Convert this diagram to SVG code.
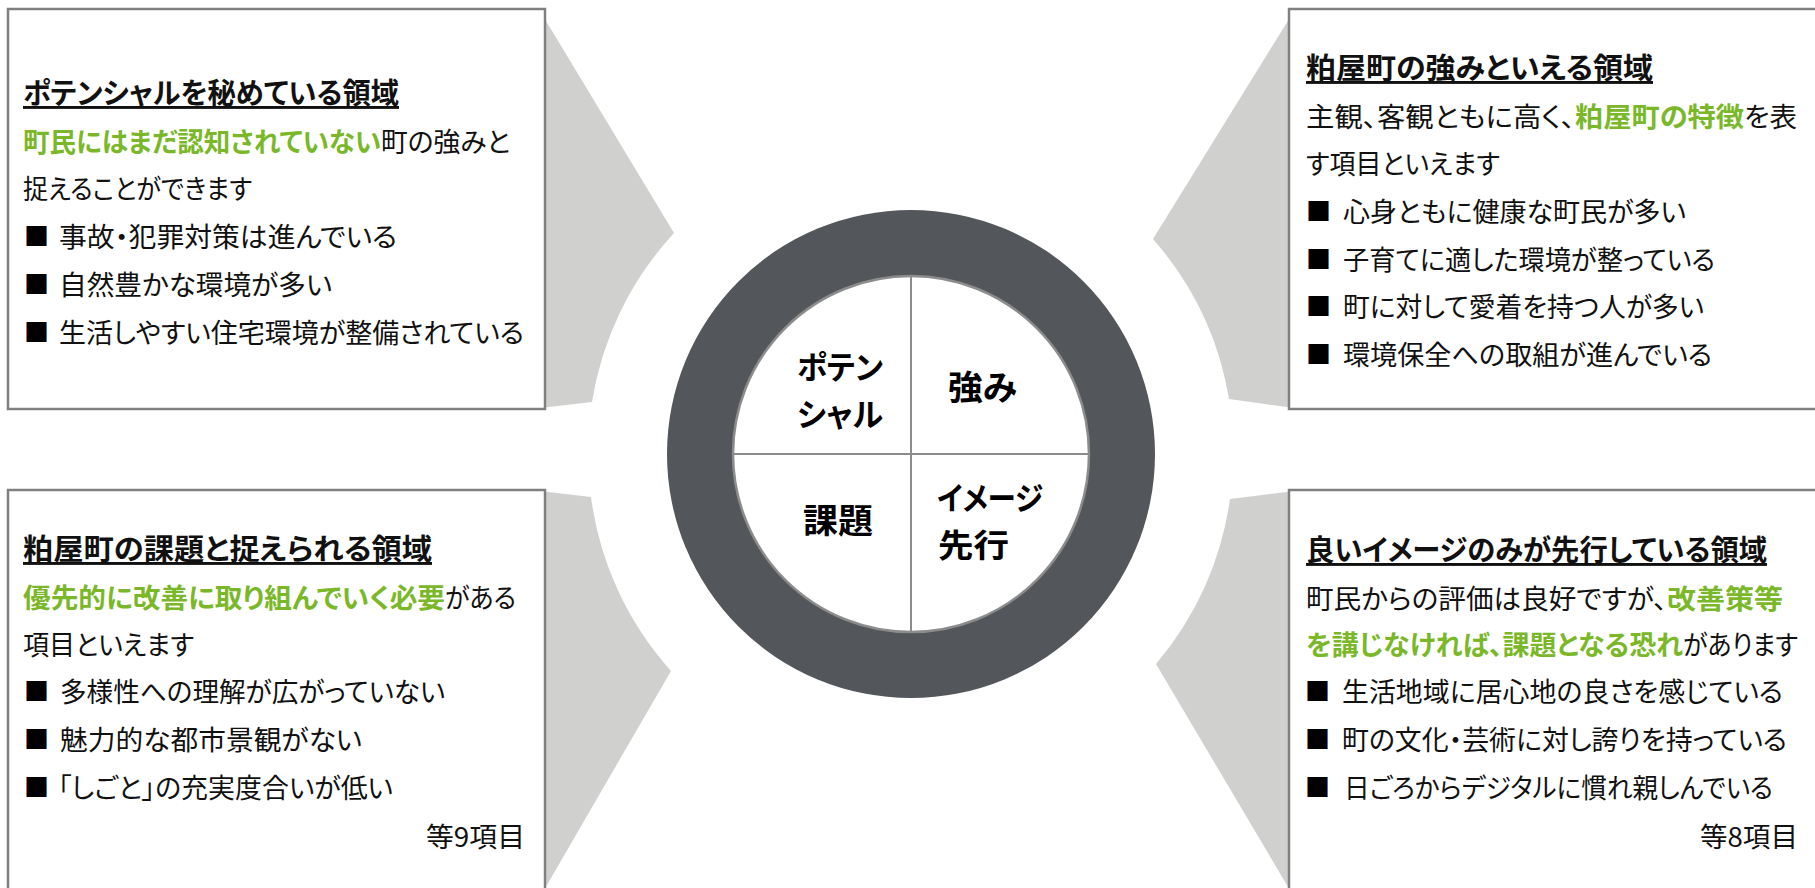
<svg xmlns="http://www.w3.org/2000/svg" width="1815" height="888" viewBox="0 0 1815 888">
<style>
text { font-family: "Noto Sans CJK JP", "Noto Sans", sans-serif; font-size: 27px; fill: #111; font-feature-settings: "palt" 1; }
.h { font-size: 29px; font-weight: 700; text-decoration: underline; }
.g { fill: #7ab829; font-weight: 700; }
.c { font-size: 34px; font-weight: 700; fill: #000; }
.c2 { font-size: 32px; font-weight: 700; fill: #000; }
.b { font-size: 25px; fill: #000; font-feature-settings: normal; }
.box { fill: #fff; stroke: #808080; stroke-width: 2.5; }
.chev { fill: #d0d0cf; }
</style>
<rect width="1815" height="888" fill="#fff"/>
<g id="connectors">
  <path class="chev" d="M 540,11 L 674,233 A 323 323 0 0 0 592,402 L 540,408 Z"/>
  <path class="chev" d="M 1294,11 L 1153,239 A 323 323 0 0 1 1229,399 L 1294,408 Z"/>
  <path class="chev" d="M 540,491 L 591,497 A 323 323 0 0 0 671,671 L 540,897 Z"/>
  <path class="chev" d="M 1294,491 L 1230,499 A 323 323 0 0 1 1156,664 L 1294,897 Z"/>
</g>
<g id="center">
  <circle cx="911" cy="454" r="244" fill="#53565a"/>
  <circle cx="911" cy="454" r="178" fill="#fff" stroke="#8c8c8c" stroke-width="2.5"/>
  <line x1="911" y1="276" x2="911" y2="632" stroke="#8c8c8c" stroke-width="2"/>
  <line x1="733" y1="454" x2="1089" y2="454" stroke="#8c8c8c" stroke-width="2"/>
  <text class="c2"><tspan x="797" y="379" textLength="86" lengthAdjust="spacingAndGlyphs">ポテン</tspan><tspan x="797" y="426" textLength="86" lengthAdjust="spacingAndGlyphs">シャル</tspan></text>
  <text class="c" x="948" y="400" textLength="69" lengthAdjust="spacingAndGlyphs">強み</text>
  <text class="c" x="803" y="533" textLength="70" lengthAdjust="spacingAndGlyphs">課題</text>
  <text class="c2"><tspan x="937" y="510" textLength="106" lengthAdjust="spacingAndGlyphs">イメージ</tspan><tspan x="938" y="557" textLength="71" lengthAdjust="spacingAndGlyphs">先行</tspan></text>
</g>
<g id="box-potential">
  <rect class="box" x="8" y="9" width="537" height="400"/>
  <text class="h" x="23" y="104" textLength="376" lengthAdjust="spacingAndGlyphs">ポテンシャルを秘めている領域</text>
  <text class="g" x="23" y="152" textLength="358" lengthAdjust="spacingAndGlyphs">町民にはまだ認知されていない</text>
  <text x="381" y="152" textLength="129" lengthAdjust="spacingAndGlyphs">町の強みと</text>
  <text x="23" y="199" textLength="229" lengthAdjust="spacingAndGlyphs">捉えることができます</text>
  <text class="b" x="24" y="246">■</text>
  <text x="59" y="247" textLength="338" lengthAdjust="spacingAndGlyphs">事故・犯罪対策は進んでいる</text>
  <text class="b" x="24" y="294">■</text>
  <text x="59" y="295" textLength="273" lengthAdjust="spacingAndGlyphs">自然豊かな環境が多い</text>
  <text class="b" x="24" y="342">■</text>
  <text x="59" y="343" textLength="465" lengthAdjust="spacingAndGlyphs">生活しやすい住宅環境が整備されている</text>
</g>
<g id="box-strength">
  <rect class="box" x="1289" y="9" width="540" height="400"/>
  <text class="h" x="1306" y="79" textLength="347" lengthAdjust="spacingAndGlyphs">粕屋町の強みといえる領域</text>
  <text x="1306" y="127" textLength="269" lengthAdjust="spacingAndGlyphs">主観、客観ともに高く、</text>
  <text class="g" x="1575" y="127" textLength="169" lengthAdjust="spacingAndGlyphs">粕屋町の特徴</text>
  <text x="1744" y="127" textLength="53" lengthAdjust="spacingAndGlyphs">を表</text>
  <text x="1306" y="174" textLength="194" lengthAdjust="spacingAndGlyphs">す項目といえます</text>
  <text class="b" x="1306" y="221">■</text>
  <text x="1343" y="222" textLength="343" lengthAdjust="spacingAndGlyphs">心身ともに健康な町民が多い</text>
  <text class="b" x="1306" y="269">■</text>
  <text x="1343" y="270" textLength="372" lengthAdjust="spacingAndGlyphs">子育てに適した環境が整っている</text>
  <text class="b" x="1306" y="316">■</text>
  <text x="1343" y="317" textLength="361" lengthAdjust="spacingAndGlyphs">町に対して愛着を持つ人が多い</text>
  <text class="b" x="1306" y="364">■</text>
  <text x="1343" y="365" textLength="369" lengthAdjust="spacingAndGlyphs">環境保全への取組が進んでいる</text>
</g>
<g id="box-issue">
  <rect class="box" x="8" y="490" width="537" height="410"/>
  <text class="h" x="23" y="560" textLength="409" lengthAdjust="spacingAndGlyphs">粕屋町の課題と捉えられる領域</text>
  <text class="g" x="23" y="608" textLength="422" lengthAdjust="spacingAndGlyphs">優先的に改善に取り組んでいく必要</text>
  <text x="445" y="608" textLength="71" lengthAdjust="spacingAndGlyphs">がある</text>
  <text x="23" y="655" textLength="171" lengthAdjust="spacingAndGlyphs">項目といえます</text>
  <text class="b" x="24" y="701">■</text>
  <text x="60" y="702" textLength="385" lengthAdjust="spacingAndGlyphs">多様性への理解が広がっていない</text>
  <text class="b" x="24" y="749">■</text>
  <text x="60" y="750" textLength="302" lengthAdjust="spacingAndGlyphs">魅力的な都市景観がない</text>
  <text class="b" x="24" y="797">■</text>
  <text x="58" y="798" textLength="335" lengthAdjust="spacingAndGlyphs">「しごと」の充実度合いが低い</text>
  <text x="426" y="847" textLength="99" lengthAdjust="spacingAndGlyphs">等9項目</text>
</g>
<g id="box-image">
  <rect class="box" x="1289" y="490" width="540" height="410"/>
  <text class="h" x="1306" y="561" textLength="461" lengthAdjust="spacingAndGlyphs">良いイメージのみが先行している領域</text>
  <text x="1306" y="609" textLength="361" lengthAdjust="spacingAndGlyphs">町民からの評価は良好ですが、</text>
  <text class="g" x="1667" y="609" textLength="116" lengthAdjust="spacingAndGlyphs">改善策等</text>
  <text class="g" x="1306" y="655" textLength="377" lengthAdjust="spacingAndGlyphs">を講じなければ、課題となる恐れ</text>
  <text x="1683" y="655" textLength="115" lengthAdjust="spacingAndGlyphs">があります</text>
  <text class="b" x="1305" y="701">■</text>
  <text x="1342" y="702" textLength="441" lengthAdjust="spacingAndGlyphs">生活地域に居心地の良さを感じている</text>
  <text class="b" x="1305" y="749">■</text>
  <text x="1342" y="750" textLength="445" lengthAdjust="spacingAndGlyphs">町の文化・芸術に対し誇りを持っている</text>
  <text class="b" x="1305" y="797">■</text>
  <text x="1344" y="798" textLength="429" lengthAdjust="spacingAndGlyphs">日ごろからデジタルに慣れ親しんでいる</text>
  <text x="1700" y="847" textLength="98" lengthAdjust="spacingAndGlyphs">等8項目</text>
</g>
</svg>
